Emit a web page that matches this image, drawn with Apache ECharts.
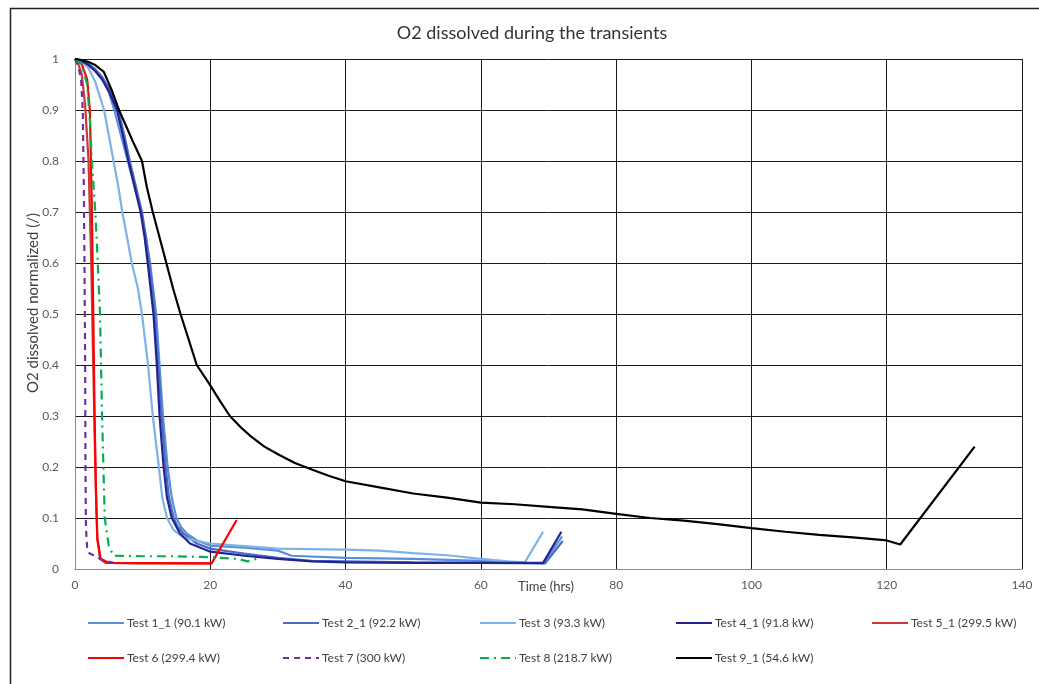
<!DOCTYPE html>
<html><head><meta charset="utf-8">
<script src="https://cdn.jsdelivr.net/npm/echarts@6/dist/echarts.min.js"></script>
<style>html,body{margin:0;padding:0;background:#fff}#c{width:1039px;height:684px}</style>
</head><body><div id="c"></div>
<script>
const seriesNames = ["Test 1_1 (90.1 kW)","Test 2_1 (92.2 kW)","Test 3 (93.3 kW)","Test 4_1 (91.8 kW)","Test 5_1 (299.5 kW)","Test 6 (299.4 kW)","Test 7 (300 kW)","Test 8 (218.7 kW)","Test 9_1 (54.6 kW)"];
const xTicks = [0,20,40,60,80,100,120,140];
const yTicks = [0,0.1,0.2,0.3,0.4,0.5,0.6,0.7,0.8,0.9,1];

const test1_1 = [[0,1],[1,0.997],[2,0.99],[3,0.978],[4,0.962],[5,0.935],[5.8,0.9],[6.8,0.85],[7.8,0.8],[8.8,0.75],[9.8,0.7],[10.5,0.65],[11.1,0.6],[12.0,0.5],[12.5,0.4],[13.0,0.3],[13.7,0.2],[14.3,0.14],[15.0,0.1],[15.7,0.082],[16.5,0.07],[18,0.056],[20,0.046],[25,0.042],[30,0.036],[32,0.026],[40,0.022],[50,0.02],[60,0.016],[66,0.012],[69.3,0.011],[72,0.064]];
const test2_1 = [[0,1],[1,0.997],[2,0.99],[3,0.98],[4,0.965],[5,0.943],[6.4,0.9],[7.3,0.85],[8.1,0.8],[9.0,0.75],[9.9,0.7],[10.5,0.65],[11.0,0.6],[11.8,0.5],[12.3,0.4],[12.8,0.3],[13.4,0.2],[13.9,0.14],[14.6,0.1],[15.2,0.083],[16,0.07],[18,0.05],[20,0.04],[25,0.03],[30,0.022],[35,0.016],[40,0.015],[50,0.013],[60,0.012],[69.5,0.011],[72.1,0.055]];
const test3 = [[0,1],[1,0.995],[2,0.982],[3,0.955],[4.3,0.9],[5.0,0.85],[5.7,0.8],[6.4,0.75],[7.0,0.7],[7.7,0.65],[8.4,0.6],[9.3,0.55],[9.9,0.5],[10.8,0.4],[11.5,0.3],[12.4,0.2],[12.9,0.14],[13.6,0.1],[14.6,0.076],[16,0.062],[18,0.055],[20,0.05],[25,0.045],[30,0.04],[40,0.038],[45,0.036],[50,0.031],[55,0.027],[60,0.02],[64,0.015],[66.5,0.013],[69.2,0.073]];
const test4_1 = [[0,1],[1,0.996],[2,0.988],[3,0.976],[4,0.96],[5,0.937],[6.2,0.9],[7.0,0.855],[7.9,0.8],[8.8,0.75],[9.7,0.7],[10.3,0.65],[10.75,0.6],[11.6,0.5],[12.1,0.4],[12.5,0.3],[13.1,0.2],[13.6,0.14],[14.3,0.1],[15.5,0.07],[17,0.05],[20,0.034],[25,0.026],[30,0.02],[35,0.015],[40,0.013],[50,0.012],[60,0.012],[69.2,0.012],[71.9,0.073]];
const test5_1 = [[0,1],[0.5,0.99],[1.0,0.97],[1.5,0.91],[2.0,0.8],[2.4,0.6],[2.7,0.4],[3.0,0.2],[3.3,0.06],[3.7,0.02],[4.5,0.012],[10,0.011],[20,0.011]];
const test6 = [[0,1],[1,0.99],[1.8,0.96],[2.2,0.9],[2.5,0.7],[2.7,0.5],[2.9,0.3],[3.1,0.15],[3.3,0.06],[3.8,0.02],[5,0.012],[20.2,0.011],[23.9,0.096]];
const test7 = [[0,1],[0.5,0.985],[0.9,0.96],[1.15,0.9],[1.3,0.75],[1.4,0.6],[1.5,0.4],[1.55,0.2],[1.62,0.08],[1.8,0.04],[2.0,0.032],[3,0.025],[4,0.018],[5.7,0.012]];
const test8 = [[0,1],[1,0.99],[1.8,0.95],[2.2,0.88],[2.5,0.8],[3.0,0.7],[3.3,0.62],[3.7,0.5],[4.0,0.3],[4.2,0.2],[4.4,0.1],[5.0,0.045],[5.7,0.026],[10,0.025],[15,0.025],[20,0.023],[24,0.02],[25.5,0.015],[26.9,0.02]];
const test9_1 = [[0,1],[1,0.998],[2,0.994],[3,0.988],[4.25,0.975],[5.4,0.94],[6.5,0.9],[7.5,0.87],[8.5,0.84],[9.9,0.8],[10.6,0.75],[11.5,0.7],[12.5,0.65],[13.5,0.6],[14.5,0.55],[15.6,0.5],[16.8,0.45],[18.0,0.4],[20,0.36],[21.4,0.33],[22.9,0.3],[24.5,0.278],[26,0.26],[28,0.24],[30,0.225],[32.5,0.208],[35,0.195],[37.5,0.183],[40,0.172],[45,0.16],[50,0.148],[55,0.14],[60,0.13],[65,0.127],[70,0.122],[75,0.117],[80,0.108],[85,0.1],[90,0.095],[95,0.088],[100,0.08],[105,0.073],[110,0.067],[115,0.062],[120,0.056],[122,0.048],[133,0.24]];

const seriesData = [test1_1,test2_1,test3,test4_1,test5_1,test6,test7,test8,test9_1];
const colors = ["#5B8FD8","#4A6BC8","#7DB3E6","#23238F","#C83A3A","#FF0000","#7030A0","#00B050","#000000"];
const lineTypes = ["solid","solid","solid","solid","solid","solid",[6,5],[9,5,2,5],"solid"];
const legendPos = [[87,617],[282,617],[479,617],[675,617],[871,617],[87,652],[282,652],[479,652],[675,652]];

const FONT = "Lato, 'Open Sans', sans-serif";
const chart = echarts.init(document.getElementById('c'), null, {renderer:'canvas'});
const option = {
  animation:false,
  backgroundColor:'#fff',
  textStyle:{fontFamily:FONT},
  title:{text:'O2 dissolved during the transients',left:527,top:19,textAlign:'center',
    textStyle:{fontFamily:FONT,fontSize:18,fontWeight:'normal',color:'#333'}},
  grid:{left:75,right:17,top:59,height:510,show:false},
  xAxis:{type:'value',min:xTicks[0],max:xTicks[xTicks.length-1],interval:20,
    axisLine:{show:true,lineStyle:{color:'#8c8c8c',width:1}},axisTick:{show:false},
    axisLabel:{fontFamily:FONT,fontSize:12,color:'#595959',margin:10,formatter:v=>xTicks.includes(v)?String(v):''},
    splitLine:{show:true,lineStyle:{color:'#1a1a1a',width:1}}},
  yAxis:{type:'value',min:yTicks[0],max:yTicks[yTicks.length-1],interval:0.1,
    axisLine:{show:true,lineStyle:{color:'#8c8c8c',width:1}},axisTick:{show:false},
    axisLabel:{fontFamily:FONT,fontSize:12,color:'#595959',margin:16,
      formatter:v=>String(Math.round(v*10)/10)},
    splitLine:{show:true,lineStyle:{color:'#1a1a1a',width:1}}},
  legend: seriesNames.map((n,i)=>({data:[n],left:legendPos[i][0],top:legendPos[i][1],
    itemWidth:36,itemHeight:12,itemGap:0,padding:0,
    itemStyle:{color:'transparent',borderColor:'transparent',borderWidth:0,opacity:0},
    textStyle:{fontFamily:FONT,fontSize:12,color:'#404040',padding:[0,0,0,-2]}})),
  series: seriesNames.map((n,i)=>({name:n,type:'line',data:seriesData[i],
    showSymbol:false,symbol:'none',smooth:false,
    lineStyle:{color:colors[i],width:2.2,type:lineTypes[i]},itemStyle:{color:colors[i]},
    z:2+i})),
  graphic:[
    {type:'rect',left:8,top:6,shape:{width:1060,height:700},
      style:{fill:'none',stroke:'#222',lineWidth:1.5},silent:true},
    {type:'text',x:33,y:303,rotation:Math.PI/2,
      style:{text:'O2 dissolved normalized (/)',fontFamily:FONT,fontSize:15,fill:'#404040',
        align:'center',verticalAlign:'middle'},silent:true},
    {type:'text',x:546,y:587,
      style:{text:'Time (hrs)',fontFamily:FONT,fontSize:13,fill:'#404040',
        align:'center',verticalAlign:'middle'},silent:true}
  ]
};
chart.setOption(option);
</script></body></html>
